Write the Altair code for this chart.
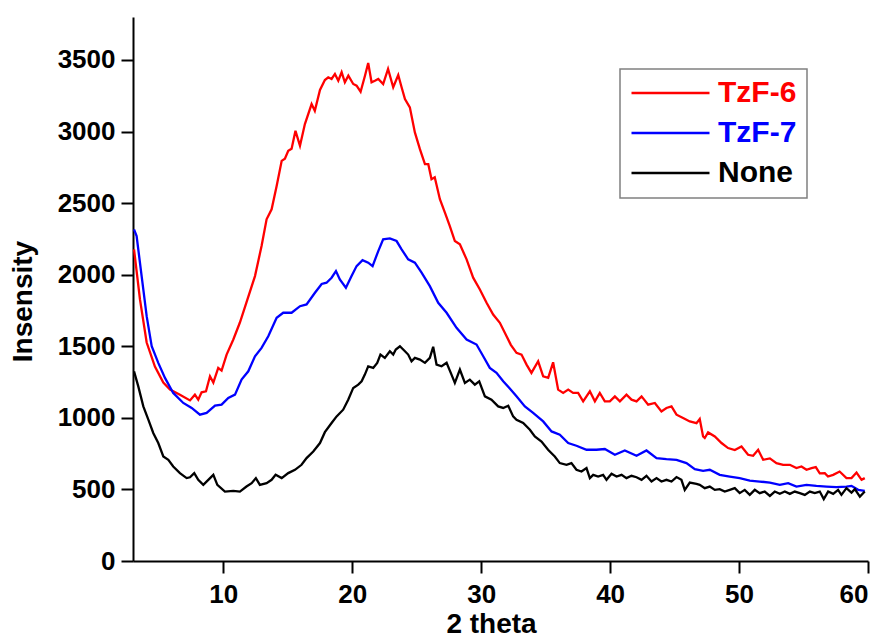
import altair as alt
import pandas as pd

series_names = ["TzF-6", "TzF-7", "None"]
series_colors = ["#ff0000", "#0000ff", "#000000"]

tzf6_x = [3.08, 3.54, 4.06, 4.7, 5.35, 5.87, 6.64, 7.42, 7.8, 8.06, 8.32, 8.66, 8.97, 9.23, 9.61, 9.87,
          10.26, 10.78, 11.29, 11.8, 12.46, 12.97, 13.36, 13.75, 14.14, 14.53, 14.78, 15.04, 15.3, 15.6,
          15.95, 16.33, 16.85, 17.1, 17.5, 17.88, 18.14, 18.4, 18.66, 18.92, 19.18, 19.43, 19.7, 20.08,
          20.34, 20.65, 20.99, 21.24, 21.5, 21.76, 22.02, 22.4, 22.78, 23.18, 23.57, 23.83, 24.09, 24.47,
          24.86, 25.25, 25.64, 25.9, 26.15, 26.4, 26.8, 27.19, 27.57, 27.96, 28.35, 28.87, 29.38, 29.9,
          30.42, 30.93, 31.45, 31.97, 32.3, 32.74, 33.13, 33.52, 33.9, 34.42, 34.81, 35.2, 35.58, 35.97,
          36.36, 36.75, 37.13, 37.52, 37.91, 38.43, 38.82, 39.2, 39.59, 39.98, 40.37, 40.76, 41.27, 41.66,
          42.05, 42.44, 42.95, 43.47, 43.98, 44.37, 44.76, 45.15, 45.66, 46.18, 46.7, 46.95, 47.21, 47.34,
          47.6, 48.12, 48.64, 49.15, 49.67, 50.19, 50.7, 51.09, 51.48, 51.87, 52.39, 52.9, 53.42, 53.94,
          54.45, 54.84, 55.23, 55.62, 55.95, 56.26, 56.65, 56.9, 57.3, 57.8, 58.33, 58.72, 59.11, 59.5, 59.75]
tzf6_y = [2177, 1827, 1526, 1358, 1246, 1197, 1162, 1122, 1162, 1127, 1178, 1185, 1290, 1246, 1349, 1330,
          1442, 1547, 1666, 1806, 1990, 2200, 2387, 2457, 2620, 2795, 2810, 2865, 2880, 3005,
          2900, 3052, 3192, 3145, 3290, 3360, 3379, 3367, 3402, 3355, 3414, 3344, 3390, 3332,
          3320, 3278, 3390, 3479, 3344, 3355, 3367, 3332, 3437, 3309, 3395, 3309, 3227, 3169,
          2994, 2877, 2772, 2772, 2667, 2680, 2527, 2434, 2340, 2235, 2212, 2107, 1979, 1897,
          1804, 1722, 1664, 1570, 1510, 1454, 1442, 1372, 1314, 1395, 1290, 1279, 1388, 1197,
          1174, 1197, 1174, 1174, 1115, 1185, 1115, 1174, 1115, 1115, 1150, 1115, 1162, 1127,
          1115, 1150, 1092, 1104, 1045, 1069, 1080, 1022, 999, 975, 963, 992, 870, 859,
          898, 870, 824, 789, 775, 800, 742, 735, 777, 707, 717, 684, 672, 672,
          649, 660, 637, 649, 656, 612, 614, 590, 602, 625, 579, 579, 618, 567, 579]

tzf7_x = [3.08, 3.28, 3.67, 4.06, 4.45, 4.96, 5.48, 6.12, 6.9, 7.55, 8.19, 8.71, 9.36, 9.87, 10.39, 10.91,
          11.42, 11.94, 12.46, 12.97, 13.49, 14.14, 14.65, 15.3, 15.95, 16.46, 17.11, 17.63, 18.01, 18.4,
          18.74, 19.04, 19.51, 19.95, 20.34, 20.8, 21.24, 21.58, 22.02, 22.4, 22.92, 23.44, 23.83, 24.34,
          24.86, 25.38, 26.02, 26.67, 27.32, 28.09, 28.87, 29.64, 30.16, 30.67, 31.19, 31.71, 32.22, 32.74,
          33.39, 34.03, 34.81, 35.46, 36.1, 36.75, 37.39, 38.17, 38.94, 39.59, 40.37, 41.14, 42.05, 42.82,
          43.6, 44.37, 45.15, 45.92, 46.57, 47.21, 47.73, 48.5, 49.28, 50.05, 50.83, 51.6, 52.39, 53.16,
          53.81, 54.45, 55.23, 56.0, 56.78, 57.55, 58.33, 58.72, 59.24, 59.75]
tzf7_y = [2317, 2270, 1990, 1710, 1500, 1384, 1279, 1174, 1104, 1069, 1022, 1034, 1085, 1092, 1139, 1162,
          1267, 1325, 1430, 1489, 1570, 1699, 1734, 1734, 1780, 1792, 1874, 1935, 1944, 1979,
          2025, 1967, 1909, 1990, 2060, 2102, 2084, 2060, 2165, 2247, 2254, 2235, 2177, 2107,
          2084, 2014, 1920, 1804, 1734, 1629, 1547, 1512, 1430, 1349, 1314, 1255, 1205, 1150,
          1080, 1034, 975, 905, 882, 824, 805, 777, 777, 782, 742, 772, 735, 772,
          719, 712, 707, 684, 642, 630, 637, 602, 590, 579, 562, 555, 548, 532,
          544, 520, 532, 525, 520, 516, 520, 525, 497, 490]

none_x = [3.08, 3.41, 3.8, 4.19, 4.57, 4.96, 5.35, 5.74, 6.12, 6.64, 7.16, 7.42, 7.75, 8.06, 8.45, 8.84,
          9.23, 9.54, 10.13, 10.78, 11.29, 11.8, 12.2, 12.53, 12.84, 13.36, 13.75, 14.06, 14.53, 15.04,
          15.56, 16.07, 16.46, 16.98, 17.5, 17.88, 18.4, 18.79, 19.3, 19.69, 20.08, 20.47, 20.73, 20.98,
          21.24, 21.63, 21.94, 22.19, 22.53, 22.92, 23.18, 23.38, 23.7, 24.09, 24.34, 24.6, 24.86, 25.25,
          25.64, 26.02, 26.28, 26.54, 26.93, 27.32, 27.7, 27.96, 28.35, 28.74, 29.12, 29.51, 29.85, 30.29,
          30.8, 31.32, 31.71, 32.1, 32.48, 32.74, 33.26, 33.78, 34.16, 34.68, 35.19, 35.71, 36.1, 36.62,
          37.0, 37.39, 37.78, 38.17, 38.43, 38.69, 39.07, 39.46, 39.72, 40.11, 40.5, 40.89, 41.27, 41.66,
          42.05, 42.44, 42.82, 43.21, 43.6, 43.98, 44.37, 44.76, 45.15, 45.53, 45.79, 46.18, 46.7, 46.95,
          47.34, 47.73, 48.12, 48.5, 48.89, 49.28, 49.67, 50.05, 50.44, 50.83, 51.22, 51.6, 51.99, 52.39,
          52.77, 53.16, 53.55, 53.94, 54.32, 54.71, 55.1, 55.49, 55.87, 56.26, 56.57, 56.91, 57.3, 57.68,
          57.94, 58.33, 58.72, 58.98, 59.37, 59.75]
none_y = [1325, 1220, 1080, 987, 894, 824, 730, 707, 660, 614, 579, 585, 614, 567, 532, 567,
          602, 532, 485, 490, 485, 520, 544, 579, 532, 544, 567, 602, 579, 614,
          637, 672, 719, 765, 824, 900, 964, 1010, 1057, 1127, 1209, 1232, 1255, 1302,
          1360, 1349, 1384, 1442, 1419, 1465, 1442, 1477, 1500, 1465, 1442, 1395, 1419, 1407,
          1384, 1419, 1496, 1372, 1360, 1384, 1302, 1244, 1337, 1244, 1267, 1232, 1255, 1150,
          1127, 1080, 1069, 1085, 1010, 987, 964, 917, 870, 835, 777, 730, 684, 672,
          684, 637, 625, 649, 579, 602, 590, 602, 567, 609, 590, 602, 579, 595,
          585, 567, 595, 555, 579, 555, 567, 555, 586, 567, 497, 548, 539, 532,
          509, 520, 497, 502, 485, 497, 509, 474, 497, 462, 497, 474, 485, 455,
          485, 469, 485, 469, 485, 474, 462, 485, 474, 485, 432, 485, 469, 497,
          462, 509, 478, 502, 450, 485]

x_ticks = [10, 20, 30, 40, 50, 60]
y_ticks = [0, 500, 1000, 1500, 2000, 2500, 3000, 3500]

frames = []
for name, xs, ys in [("TzF-6", tzf6_x, tzf6_y), ("TzF-7", tzf7_x, tzf7_y), ("None", none_x, none_y)]:
    frames.append(pd.DataFrame({"theta": xs, "intensity": ys, "sample": name}))
df = pd.concat(frames, ignore_index=True)

FONT = "Liberation Sans"

label_color_expr = ("datum.value === 'TzF-6' ? '#ff0000' : "
                    "datum.value === 'TzF-7' ? '#0000ff' : '#000000'")

chart = alt.Chart(df).mark_line(strokeWidth=2.3).encode(
    x=alt.X("theta:Q", scale=alt.Scale(domain=[3, 60], nice=False, zero=False),
            axis=alt.Axis(title="2 theta", values=x_ticks, format="d", labelPadding=8,
                          titleX=358, titleY=71, titleBaseline="alphabetic")),
    y=alt.Y("intensity:Q", scale=alt.Scale(domain=[0, 3800], nice=False),
            axis=alt.Axis(title="Insensity", values=y_ticks, format="d", labelPadding=6,
                          titleX=-110, titleY=284, titleBaseline="middle")),
    color=alt.Color("sample:N",
                    scale=alt.Scale(domain=series_names, range=series_colors),
                    legend=alt.Legend(title=None, orient="none", legendX=487, legendY=52,
                                      symbolType="stroke", symbolSize=6084, symbolStrokeWidth=2.5,
                                      clipHeight=28,
                                      labelFont=FONT, labelFontSize=30, labelFontWeight="bold",
                                      labelColor={"expr": label_color_expr},
                                      labelOffset=7, padding=10, rowPadding=10,
                                      strokeColor="#808080")),
    detail="sample:N",
).properties(
    width=735, height=544,
    autosize=alt.AutoSizeParams(type="none"),
    padding={"left": 133, "top": 17, "right": 17, "bottom": 78},
).configure_view(stroke=None).configure_axis(
    grid=False, domainColor="black", domainWidth=2, tickColor="black", tickWidth=2, tickSize=12,
    labelFont=FONT, labelFontSize=26, labelFontWeight="bold", labelColor="black",
    titleFont=FONT, titleFontSize=28, titleFontWeight="bold", titleColor="black",
).configure_legend(strokeWidth=1.5)

chart.save("out.html", embed_options={"renderer": "svg", "actions": False})
